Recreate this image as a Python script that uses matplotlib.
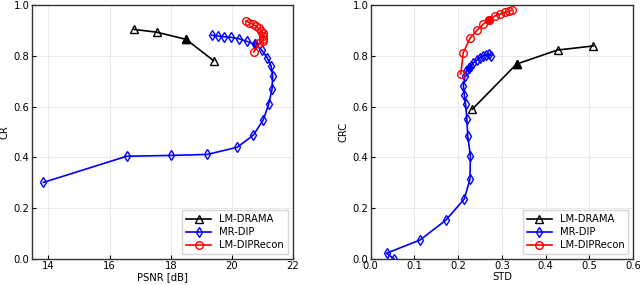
import matplotlib
matplotlib.use("Agg")
import matplotlib.pyplot as plt

# ---- Left panel: PSNR vs CR ----
drama_psnr = [16.80, 17.54, 18.50, 19.40]
drama_cr = [0.903, 0.892, 0.864, 0.780]
drama_fill_l = 2

mrdip_psnr = [13.83, 16.56, 18.00, 19.19, 20.17, 20.70, 21.02, 21.20, 21.31, 21.33,
              21.28, 21.15, 20.97, 20.74, 20.49, 20.24, 19.97, 19.74, 19.53, 19.34]
mrdip_cr = [0.302, 0.405, 0.408, 0.412, 0.440, 0.488, 0.547, 0.609, 0.668, 0.720,
            0.759, 0.792, 0.822, 0.844, 0.856, 0.866, 0.872, 0.874, 0.877, 0.880]
mrdip_fill_l = 13

recon_psnr = [20.71, 20.90, 21.00, 21.03, 21.03, 21.00, 20.95, 20.87, 20.79, 20.68, 20.57, 20.46]
recon_cr = [0.814, 0.848, 0.856, 0.866, 0.876, 0.888, 0.898, 0.907, 0.916, 0.923, 0.929, 0.936]

# ---- Right panel: STD vs CRC ----
drama_std = [0.509, 0.427, 0.3335, 0.232]
drama_crc = [0.838, 0.822, 0.767, 0.589]
drama_fill_r = 2

mrdip_std = [0.053, 0.0365, 0.113, 0.172, 0.214, 0.227, 0.228, 0.222, 0.220, 0.217,
             0.214, 0.212, 0.2155, 0.219, 0.224, 0.229, 0.235, 0.242, 0.250, 0.256,
             0.263, 0.271, 0.276]
mrdip_crc = [0.003, 0.024, 0.076, 0.154, 0.237, 0.315, 0.407, 0.483, 0.550, 0.609,
             0.647, 0.681, 0.720, 0.740, 0.750, 0.760, 0.772, 0.781, 0.791, 0.799,
             0.802, 0.805, 0.800]
mrdip_fill_r = 14

recon_std = [0.206, 0.2116, 0.227, 0.2436, 0.257, 0.270, 0.284, 0.295, 0.307, 0.317, 0.322]
recon_crc = [0.728, 0.811, 0.868, 0.900, 0.923, 0.940, 0.956, 0.963, 0.970, 0.975, 0.978]
recon_fill_r = 5

labels = ["LM-DRAMA", "MR-DIP", "LM-DIPRecon"]

plt.rcParams['font.family'] = ['DejaVu Sans']
fig = plt.figure(figsize=(6.4, 2.85), dpi=100)
axL = fig.add_axes([0.0495, 0.090, 0.4085, 0.8935])
axR = fig.add_axes([0.579, 0.090, 0.4105, 0.8935])

ms = 5.5
lw = 1.2
fs = 7.2

def style(ax):
    ax.grid(True, color='#e6e6e6', linewidth=0.6)
    ax.set_axisbelow(True)
    ax.tick_params(direction='in', labelsize=fs, length=3, width=0.8, pad=1.5, colors='black')
    for s in ax.spines.values():
        s.set_color('#333333')
        s.set_linewidth(1.0)

def draw(ax, x, y, color, marker, fill_idx, label):
    ax.plot(x, y, color=color, marker=marker, markersize=ms, markerfacecolor='none',
            markeredgecolor=color, linewidth=lw, markeredgewidth=1.0, label=label)
    if fill_idx is not None:
        ax.plot([x[fill_idx]], [y[fill_idx]], color=color, marker=marker, markersize=ms,
                linestyle='none', markerfacecolor=color, markeredgecolor=color)

draw(axL, drama_psnr, drama_cr, 'black', '^', drama_fill_l, labels[0])
draw(axL, mrdip_psnr, mrdip_cr, 'blue', 'd', mrdip_fill_l, labels[1])
draw(axL, recon_psnr, recon_cr, 'red', 'o', None, labels[2])
axL.set_xlim(13.45, 22)
axL.set_ylim(0, 1)
axL.set_xticks([14, 16, 18, 20, 22])
axL.set_yticks([0.0, 0.2, 0.4, 0.6, 0.8, 1.0])
axL.set_xlabel("PSNR [dB]", fontsize=fs, labelpad=0.5)
axL.set_ylabel("CR", fontsize=fs, labelpad=3)
style(axL)
axL.legend(loc='lower right', fontsize=fs, frameon=True, fancybox=False,
           edgecolor='#cccccc', handlelength=2.5, borderpad=0.4, labelspacing=0.3)

draw(axR, drama_std, drama_crc, 'black', '^', drama_fill_r, labels[0])
draw(axR, mrdip_std, mrdip_crc, 'blue', 'd', mrdip_fill_r, labels[1])
draw(axR, recon_std, recon_crc, 'red', 'o', recon_fill_r, labels[2])
axR.set_xlim(0, 0.6)
axR.set_ylim(0, 1)
axR.set_xticks([0.0, 0.1, 0.2, 0.3, 0.4, 0.5, 0.6])
axR.set_yticks([0.0, 0.2, 0.4, 0.6, 0.8, 1.0])
axR.set_xlabel("STD", fontsize=fs, labelpad=0.5)
axR.set_ylabel("CRC", fontsize=fs, labelpad=3)
style(axR)
axR.legend(loc='lower right', fontsize=fs, frameon=True, fancybox=False,
           edgecolor='#cccccc', handlelength=2.5, borderpad=0.4, labelspacing=0.3)

fig.savefig("out.png", dpi=100)
